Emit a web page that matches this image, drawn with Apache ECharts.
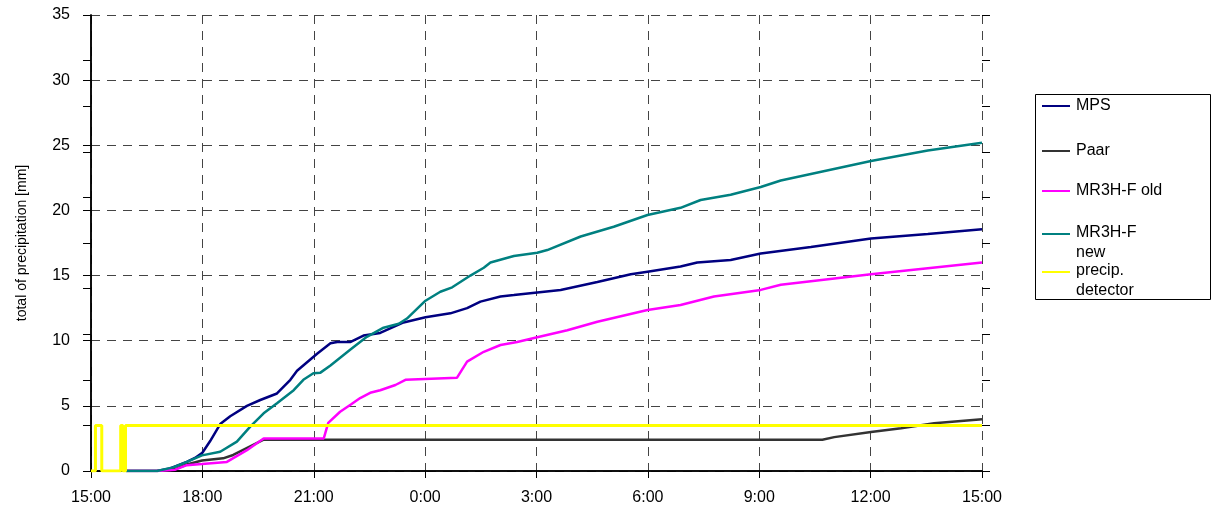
<!DOCTYPE html>
<html>
<head>
<meta charset="utf-8">
<script src="https://cdn.jsdelivr.net/npm/echarts@6/dist/echarts.min.js"></script>
<style>html,body{margin:0;padding:0;background:#fff}#c{width:1213px;height:510px}</style>
</head>
<body>
<div id="c"></div>
<script>
// time axis: hours after 15:00
var tickLabels = ['15:00','18:00','21:00','0:00','3:00','6:00','9:00','12:00','15:00'];
var yAxisName = 'total of precipitation [mm]';
var seriesNames = ['MPS', 'Paar', 'MR3H-F old', 'MR3H-F new', 'precip. detector'];
var seriesColors = ['#000080', '#333333', '#FF00FF', '#008080', '#FFFF00'];

var mps = [[0.94,0],[1.78,0],[2.13,0.2],[2.58,0.7],[2.8,1.0],[3.0,1.4],[3.21,2.3],[3.48,3.6],[3.75,4.2],[4.2,5.0],[4.56,5.45],[5.01,5.95],[5.37,7.0],[5.55,7.7],[6.09,9.0],[6.45,9.8],[6.63,9.9],[6.98,9.9],[7.34,10.4],[7.79,10.6],[8.42,11.4],[9.01,11.8],[9.68,12.1],[10.13,12.5],[10.49,13.0],[11.03,13.4],[11.39,13.5],[12.02,13.7],[12.65,13.9],[13.64,14.5],[14.54,15.1],[14.99,15.3],[15.88,15.7],[16.33,16.0],[17.23,16.2],[18.04,16.7],[19.39,17.2],[21.01,17.85],[22.54,18.2],[24,18.55]];
var paar = [[0.94,0],[1.78,0],[2.27,0.15],[2.58,0.5],[2.99,0.8],[3.56,0.97],[3.83,1.23],[4.65,2.4],[19.7,2.4],[20.02,2.6],[21.01,3.0],[21.82,3.28],[22.71,3.66],[24,3.97]];
var mr3hOld = [[0.94,0],[1.78,0],[2.27,0.1],[2.58,0.45],[2.99,0.54],[3.66,0.7],[4.2,1.6],[4.65,2.5],[6.27,2.5],[6.39,3.7],[6.71,4.55],[7.0,5.1],[7.25,5.6],[7.52,6.0],[7.79,6.2],[8.2,6.6],[8.47,7.0],[9.86,7.16],[10.13,8.4],[10.58,9.15],[11.03,9.67],[11.48,9.9],[12.02,10.26],[12.83,10.8],[13.64,11.46],[14.99,12.36],[15.88,12.74],[16.78,13.4],[18.04,13.9],[18.58,14.3],[21.01,15.1],[22.54,15.56],[24,16.0]];
var mr3hNew = [[0.94,0],[1.78,0],[2.21,0.28],[2.58,0.7],[2.99,1.2],[3.48,1.48],[3.93,2.25],[4.29,3.4],[4.65,4.43],[5.01,5.2],[5.46,6.2],[5.72,7.0],[5.99,7.5],[6.18,7.55],[6.45,8.1],[6.98,9.3],[7.43,10.3],[7.88,11.0],[8.29,11.3],[8.51,11.7],[9.01,13.07],[9.41,13.76],[9.73,14.1],[10.22,15.0],[10.58,15.6],[10.76,16.0],[11.39,16.5],[12.02,16.75],[12.29,16.96],[13.19,18.0],[14.08,18.75],[14.99,19.65],[15.88,20.2],[16.42,20.8],[17.23,21.2],[18.04,21.8],[18.58,22.3],[19.39,22.8],[21.01,23.8],[22.54,24.6],[24,25.2]];
var detector = [[0,0],[0.12,0],[0.12,3.5],[0.29,3.5],[0.29,0],[0.8,0],[0.8,3.5],[0.86,3.5],[0.86,0],[0.93,0],[0.93,3.5],[24,3.5]];

var allData = [mps, paar, mr3hOld, mr3hNew, detector];

var FONT = '"Liberation Sans", Arial, sans-serif';
var chart = echarts.init(document.getElementById('c'), null, {renderer: 'canvas'});

var series = seriesNames.map(function (n, i) {
  return {
    name: n,
    type: 'line',
    data: allData[i],
    showSymbol: false,
    symbol: 'none',
    xAxisIndex: 0,
    yAxisIndex: 0,
    color: seriesColors[i],
    lineStyle: {color: seriesColors[i], width: i === 4 ? 3 : 2.5},
    itemStyle: {color: seriesColors[i]},
    z: 2 + i
  };
});

// one legend per entry, placed in a bordered box
var legendCenters = [105, 150, 190, 243, 281];
var twoLine = [false, false, false, true, true];
var legendLabels = ['MPS', 'Paar', 'MR3H-F old', 'MR3H-F\nnew', 'precip.\ndetector'];
var legends = seriesNames.map(function (n, i) {
  var h = twoLine[i] ? 40 : 18;
  return {
    data: [n],
    orient: 'vertical',
    left: 1042,
    top: legendCenters[i] - h / 2,
    padding: 0,
    itemWidth: 28,
    itemHeight: twoLine[i] ? 20 : 2,
    itemGap: 0,
    icon: twoLine[i] ? 'path://M0,0H28V2H0Z M0,20H0.01V20.01H0Z' : 'rect',
    itemStyle: {borderWidth: 0},
    selectedMode: false,
    formatter: function () { return legendLabels[i]; },
    textStyle: {fontFamily: FONT, fontSize: 16, color: '#000', lineHeight: 20, padding: [0, 0, 0, 1]}
  };
});

var option = {
  animation: false,
  backgroundColor: '#fff',
  grid: {left: 91, right: 231, top: 15, bottom: 39, containLabel: false},
  legend: legends,
  xAxis: [{
    type: 'value', min: 0, max: 24, interval: 3, position: 'bottom',
    axisLine: {show: true, onZero: false, lineStyle: {color: '#000', width: 1.5}},
    axisTick: {show: true, length: 7, lineStyle: {color: '#000'}},
    axisLabel: {fontFamily: FONT, fontSize: 16, color: '#000', margin: 19,
      formatter: function (v) { return tickLabels[Math.round(v / 3)]; }},
    splitLine: {show: true, lineStyle: {color: '#444', type: [9, 7], width: 1}}
  }, {
    type: 'value', min: 0, max: 24, position: 'top',
    axisLine: {show: true, lineStyle: {color: '#000', width: 1.5}},
    axisTick: {show: false}, axisLabel: {show: false}, splitLine: {show: false}
  }],
  yAxis: [{
    type: 'value', min: 0, max: 35, interval: 5, position: 'left',
    name: yAxisName, nameLocation: 'middle', nameGap: 62, nameRotate: 90,
    nameTextStyle: {fontFamily: FONT, fontSize: 14, color: '#000'},
    axisLine: {show: true, lineStyle: {color: '#000', width: 1.5}},
    axisTick: {show: true, length: 8, lineStyle: {color: '#000'}},
    axisLabel: {fontFamily: FONT, fontSize: 16, color: '#000', margin: 21},
    splitLine: {show: true, lineStyle: {color: '#444', type: [9, 7], width: 1}}
  }, {
    type: 'value', min: 0, max: 10, interval: 1, position: 'right',
    axisLine: {show: true, lineStyle: {color: '#000', width: 1.5}},
    axisTick: {show: true, inside: true, length: 8, lineStyle: {color: '#000'}},
    axisLabel: {show: false}, splitLine: {show: false}
  }, {
    type: 'value', min: 0, max: 10, interval: 1, position: 'right',
    axisLine: {show: false},
    axisTick: {show: true, inside: false, length: 8, lineStyle: {color: '#000'}},
    axisLabel: {show: false}, splitLine: {show: false}
  }],
  graphic: [{
    type: 'rect', left: 1033, top: 92, silent: true,
    shape: {width: 175, height: 205},
    style: {fill: 'none', stroke: '#000', lineWidth: 1}
  }],
  series: series
};
chart.setOption(option);
</script>
</body>
</html>
